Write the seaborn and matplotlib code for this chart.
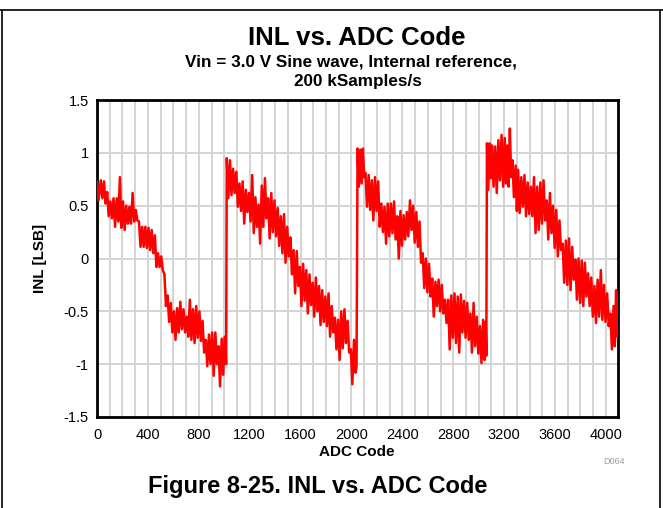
import matplotlib
matplotlib.use("Agg")
import matplotlib.pyplot as plt
import seaborn as sns
import pandas as pd
from matplotlib.lines import Line2D

# ---------------- data ----------------
seg1_code = [0, 12, 30, 42, 55, 67, 80, 92, 105, 117, 130, 142, 155, 167, 180, 192, 205, 217,
             230, 242, 255, 267, 280, 292, 305, 317, 330, 342, 355, 367, 380, 392, 405, 417,
             430, 442, 455, 467, 480, 492, 505, 517, 530, 542, 555, 567, 580, 592, 605, 617,
             630, 642, 655, 667, 680, 692, 705, 717, 730, 742, 755, 767, 780, 792, 805, 817,
             830, 842, 855, 867, 880, 892, 905, 917, 930, 942, 955, 967, 980, 992, 1005, 1015]
seg1_inl = [0.73, 0.55, 0.74, 0.57, 0.73, 0.52, 0.63, 0.40, 0.54, 0.38, 0.57, 0.30, 0.57, 0.35,
            0.77, 0.29, 0.54, 0.27, 0.50, 0.33, 0.49, 0.33, 0.62, 0.35, 0.46, 0.36, 0.35, 0.11,
            0.30, 0.11, 0.30, 0.10, 0.29, 0.08, 0.27, 0.05, 0.22, -0.08, 0.05, -0.08, 0.02, -0.11,
            -0.15, -0.45, -0.35, -0.60, -0.42, -0.70, -0.50, -0.77, -0.47, -0.70, -0.41, -0.67,
            -0.48, -0.70, -0.55, -0.74, -0.39, -0.77, -0.48, -0.80, -0.45, -0.75, -0.50, -0.78,
            -0.59, -0.89, -0.77, -1.02, -0.72, -1.00, -0.70, -1.11, -0.70, -1.00, -0.83, -1.21,
            -0.76, -1.10, -0.74, -1.00]

seg2_code = [1020, 1032, 1045, 1057, 1070, 1082, 1095, 1107, 1120, 1132, 1145, 1157, 1170, 1182,
             1195, 1207, 1220, 1232, 1245, 1257, 1270, 1282, 1295, 1307, 1320, 1332, 1345, 1357,
             1370, 1382, 1395, 1407, 1420, 1432, 1445, 1457, 1470, 1482, 1495, 1507, 1520, 1532,
             1545, 1557, 1570, 1582, 1595, 1607, 1620, 1632, 1645, 1657, 1670, 1682, 1695, 1707,
             1720, 1732, 1745, 1757, 1770, 1782, 1795, 1807, 1820, 1832, 1845, 1857, 1870, 1882,
             1895, 1907, 1920, 1932, 1945, 1957, 1970, 1982, 1995, 2007, 2020, 2032, 2040]
seg2_inl = [0.95, 0.57, 0.93, 0.60, 0.85, 0.62, 0.82, 0.49, 0.71, 0.45, 0.73, 0.33, 0.65, 0.44,
            0.62, 0.35, 0.79, 0.24, 0.58, 0.30, 0.51, 0.14, 0.69, 0.30, 0.76, 0.38, 0.57, 0.19,
            0.62, 0.25, 0.55, 0.21, 0.48, 0.12, 0.40, 0.05, 0.42, -0.04, 0.30, 0.02, 0.20, -0.15,
            0.08, -0.33, 0.07, -0.26, -0.08, -0.45, -0.05, -0.40, -0.11, -0.52, -0.15, -0.44,
            -0.23, -0.55, -0.18, -0.50, -0.26, -0.63, -0.30, -0.60, -0.36, -0.64, -0.33, -0.74,
            -0.45, -0.70, -0.56, -0.86, -0.58, -0.96, -0.50, -0.85, -0.48, -0.80, -0.59, -0.89,
            -0.86, -1.19, -0.77, -1.08, -1.02]

seg3_code = [2048, 2058, 2070, 2080, 2090, 2100, 2110, 2122, 2135, 2147, 2160, 2172, 2185, 2197,
             2210, 2222, 2235, 2247, 2260, 2272, 2285, 2297, 2310, 2322, 2335, 2347, 2360, 2372,
             2385, 2397, 2410, 2422, 2435, 2447, 2460, 2472, 2485, 2497, 2510, 2522, 2535, 2547,
             2560, 2572, 2585, 2597, 2610, 2622, 2635, 2647, 2660, 2672, 2685, 2697, 2710, 2722,
             2735, 2747, 2760, 2772, 2785, 2797, 2810, 2822, 2835, 2847, 2860, 2872, 2885, 2897,
             2910, 2922, 2935, 2947, 2960, 2972, 2985, 2997, 3010, 3022, 3035, 3047, 3055, 3060]
seg3_inl = [1.04, 0.68, 1.03, 0.71, 1.04, 0.77, 0.81, 0.49, 0.79, 0.46, 0.74, 0.36, 0.77, 0.45,
            0.73, 0.30, 0.52, 0.25, 0.49, 0.14, 0.52, 0.21, 0.52, 0.24, 0.54, 0.18, 0.40, 0.00,
            0.45, 0.12, 0.41, 0.18, 0.44, 0.21, 0.55, 0.27, 0.50, 0.15, 0.44, 0.11, 0.35, -0.04,
            0.05, -0.28, 0.00, -0.32, -0.05, -0.36, -0.19, -0.55, -0.22, -0.45, -0.20, -0.50,
            -0.25, -0.52, -0.39, -0.61, -0.39, -0.86, -0.35, -0.75, -0.33, -0.80, -0.36, -0.89,
            -0.34, -0.70, -0.40, -0.75, -0.42, -0.77, -0.52, -0.89, -0.42, -0.83, -0.55, -0.90,
            -0.64, -0.99, -0.58, -0.96, -0.60, -0.92]

seg4_code = [3065, 3075, 3085, 3095, 3105, 3117, 3130, 3142, 3155, 3167, 3180, 3192, 3205, 3215,
             3225, 3235, 3245, 3255, 3265, 3277, 3290, 3300, 3310, 3322, 3335, 3347, 3360, 3372,
             3385, 3397, 3410, 3422, 3435, 3447, 3460, 3472, 3485, 3497, 3510, 3522, 3535, 3547,
             3560, 3572, 3585, 3597, 3610, 3622, 3635, 3647, 3660, 3672, 3685, 3697, 3710, 3722,
             3735, 3747, 3760, 3772, 3785, 3797, 3810, 3822, 3835, 3847, 3860, 3872, 3885, 3897,
             3910, 3922, 3935, 3947, 3960, 3972, 3985, 3997, 4010, 4022, 4035, 4047, 4060, 4070,
             4080, 4090, 4095]
seg4_inl = [1.09, 0.65, 1.09, 0.76, 1.07, 0.68, 1.06, 0.62, 1.12, 0.74, 1.17, 0.68, 1.14, 0.71,
            1.07, 0.68, 1.23, 0.77, 0.93, 0.58, 0.88, 0.45, 0.84, 0.43, 0.77, 0.49, 0.79, 0.40,
            0.72, 0.42, 0.68, 0.40, 0.77, 0.24, 0.68, 0.27, 0.72, 0.33, 0.74, 0.36, 0.55, 0.18,
            0.62, 0.24, 0.50, 0.10, 0.46, 0.02, 0.36, 0.08, 0.14, -0.23, 0.17, -0.25, 0.19, -0.30,
            0.11, -0.20, -0.01, -0.39, 0.00, -0.42, -0.02, -0.45, -0.04, -0.36, -0.14, -0.45,
            -0.18, -0.55, -0.26, -0.61, -0.20, -0.55, -0.11, -0.58, -0.25, -0.60, -0.33, -0.64,
            -0.52, -0.86, -0.45, -0.83, -0.30, -0.74, -0.35]

x_tick_vals = [0, 400, 800, 1200, 1600, 2000, 2400, 2800, 3200, 3600, 4000]
y_tick_vals = [-1.5, -1.0, -0.5, 0.0, 0.5, 1.0, 1.5]
y_tick_labels = ["-1.5", "-1", "-0.5", "0", "0.5", "1", "1.5"]

for c, v in [(seg1_code, seg1_inl), (seg2_code, seg2_inl), (seg3_code, seg3_inl), (seg4_code, seg4_inl)]:
    assert len(c) == len(v), (len(c), len(v))

df = pd.DataFrame({
    "code": seg1_code + seg2_code + seg3_code + seg4_code,
    "inl": seg1_inl + seg2_inl + seg3_inl + seg4_inl,
})

# ---------------- styling ----------------
sns.set_style("white")
plt.rcParams["font.family"] = ["Liberation Sans", "DejaVu Sans"]
plt.rcParams["text.color"] = "black"
plt.rcParams["axes.labelcolor"] = "black"
plt.rcParams["xtick.color"] = "black"
plt.rcParams["ytick.color"] = "black"

fig = plt.figure(figsize=(6.63, 5.08), dpi=100)
ax = fig.add_axes([97 / 663, 1 - 417 / 508, (618 - 97) / 663, (417 - 100) / 508])

sns.lineplot(data=df, x="code", y="inl", ax=ax, color="#ff0000", linewidth=1.8,
             estimator=None, sort=False, zorder=3)

ax.set_xlim(0, 4095)
ax.set_ylim(-1.5, 1.5)
ax.set_xticks(x_tick_vals)
ax.set_xticklabels([str(v) for v in x_tick_vals])
ax.set_xticks(list(range(0, 4096, 100)), minor=True)
ax.set_yticks(y_tick_vals)
ax.set_yticklabels(y_tick_labels)
ax.grid(True, which="both", axis="x", color="#d3d3d3", linewidth=1.4, zorder=0)
ax.grid(True, which="major", axis="y", color="#d3d3d3", linewidth=1.4, zorder=0)
ax.set_axisbelow(True)
ax.tick_params(axis="x", which="both", length=0, labelsize=10.5, pad=8, colors="black")
ax.tick_params(axis="y", which="both", length=0, labelsize=10.5, pad=6, colors="black")
for sp in ax.spines.values():
    sp.set_color("black")
    sp.set_linewidth(2.0)
    sp.set_visible(True)

ax.set_xlabel("")
ax.set_ylabel("")

# texts
fig.text(357 / 663, 1 - 38 / 508, "INL vs. ADC Code", ha="center", va="center",
         fontsize=18.5, fontweight="bold")
fig.text(351 / 663, 1 - 62 / 508, "Vin = 3.0 V Sine wave, Internal reference,", ha="center",
         va="center", fontsize=12.3, fontweight="bold")
fig.text(358 / 663, 1 - 82 / 508, "200 kSamples/s", ha="center", va="center",
         fontsize=12.3, fontweight="bold")
fig.text(357 / 663, 1 - 452 / 508, "ADC Code", ha="center", va="center",
         fontsize=11, fontweight="bold")
fig.text(40 / 663, 1 - 258 / 508, "INL [LSB]", ha="center", va="center", rotation=90,
         fontsize=11, fontweight="bold")
fig.text(614 / 663, 1 - 461 / 508, "D064", ha="center", va="center", fontsize=6.5,
         color="#a0a0a0")
fig.text(318 / 663, 1 - 487 / 508, "Figure 8-25. INL vs. ADC Code", ha="center", va="center",
         fontsize=17, fontweight="bold")

# page frame lines
fig.add_artist(Line2D([0, 1], [1 - 10 / 508, 1 - 10 / 508], color="black", linewidth=1.2,
                      transform=fig.transFigure))
fig.add_artist(Line2D([2 / 663, 2 / 663], [0, 1 - 10 / 508], color="black", linewidth=1.2,
                      transform=fig.transFigure))
fig.add_artist(Line2D([660 / 663, 660 / 663], [0, 1 - 10 / 508], color="black", linewidth=1.2,
                      transform=fig.transFigure))

fig.savefig("out.png", dpi=100)
